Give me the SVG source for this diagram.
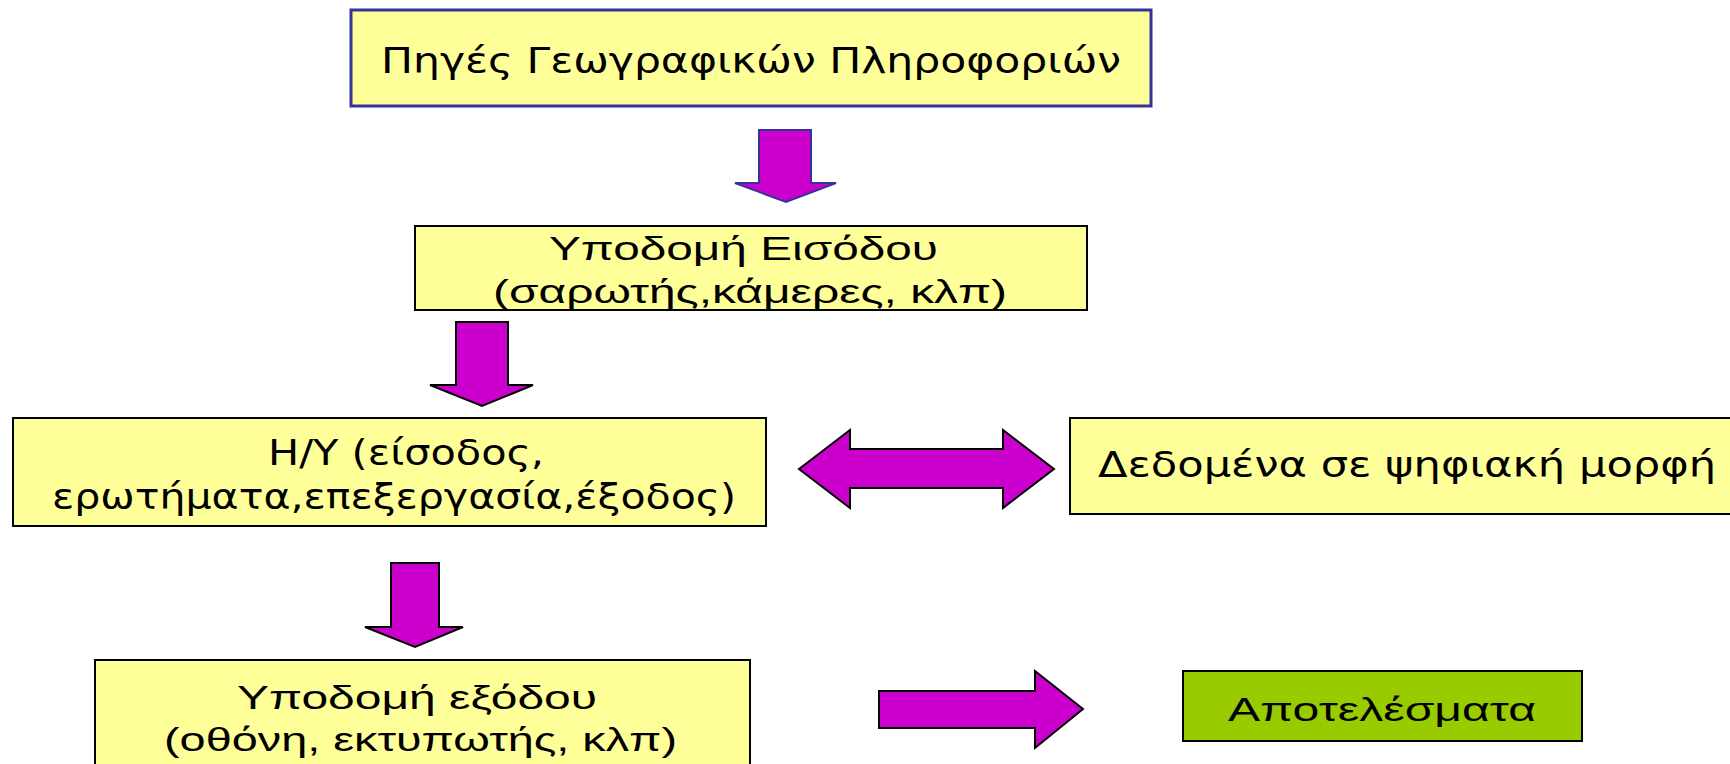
<svg xmlns="http://www.w3.org/2000/svg" width="1730" height="764" viewBox="0 0 1730 764">
<style>
.box{fill:#FFFF99;stroke:#000;stroke-width:2}
.green{fill:#99CC00;stroke:#000;stroke-width:2}
.arr{fill:#CC00CC;stroke:#000;stroke-width:2;stroke-linejoin:miter}
.ta{font-family:"Liberation Sans",Arial,sans-serif;font-size:34px;fill:#000}
.tt{font-family:"DejaVu Sans","Noto Sans",sans-serif;font-size:35px;fill:#000}
</style>
<rect width="1730" height="764" fill="#fff"/>
<g id="sources">
<rect x="351" y="10" width="800" height="96" style="fill:#FFFF99;stroke:#333399;stroke-width:3"/>
<text class="tt" x="381" y="73" textLength="740" lengthAdjust="spacingAndGlyphs">Πηγές Γεωγραφικών Πληροφοριών</text>
</g>
<g id="input">
<rect class="box" x="415" y="226" width="672" height="84"/>
<text class="ta" x="549" y="260" textLength="389" lengthAdjust="spacingAndGlyphs">Υποδομή Εισόδου</text>
<text class="ta" x="493" y="303" textLength="514" lengthAdjust="spacingAndGlyphs">(σαρωτής,κάμερες, κλπ)</text>
</g>
<g id="computer">
<rect class="box" x="13" y="418" width="753" height="108"/>
<text class="tt" x="268" y="465" textLength="276" lengthAdjust="spacingAndGlyphs">Η/Υ (είσοδος,</text>
<text class="tt" x="52" y="509" textLength="684" lengthAdjust="spacingAndGlyphs">ερωτήματα,επεξεργασία,έξοδος)</text>
</g>
<g id="data">
<rect class="box" x="1070" y="418" width="670" height="96"/>
<text class="tt" x="1098" y="477" textLength="618" lengthAdjust="spacingAndGlyphs">Δεδομένα σε ψηφιακή μορφή</text>
</g>
<g id="output">
<rect class="box" x="95" y="660" width="655" height="110"/>
<text class="ta" x="237" y="709" textLength="360" lengthAdjust="spacingAndGlyphs">Υποδομή εξόδου</text>
<text class="ta" x="164" y="751" textLength="513" lengthAdjust="spacingAndGlyphs">(οθόνη, εκτυπωτής, κλπ)</text>
</g>
<g id="results">
<rect class="green" x="1183" y="671" width="399" height="70"/>
<text class="ta" x="1228" y="721" textLength="308" lengthAdjust="spacingAndGlyphs">Αποτελέσματα</text>
</g>
<g id="connectors">
<polygon class="arr" style="stroke:#333399" points="759,130 811,130 811,183 836,183 786,202 735,183 759,183"/>
<polygon class="arr" points="456,322 508,322 508,385 533,385 482,406 430,385 456,385"/>
<polygon class="arr" points="799,469 850,430 850,449 1003,449 1003,430 1054,469 1003,508 1003,488 850,488 850,508"/>
<polygon class="arr" points="391,563 439,563 439,627 463,627 415,647 365,627 391,627"/>
<polygon class="arr" points="879,691 1035,691 1035,671 1083,709 1035,748 1035,728 879,728"/>
</g>
</svg>
